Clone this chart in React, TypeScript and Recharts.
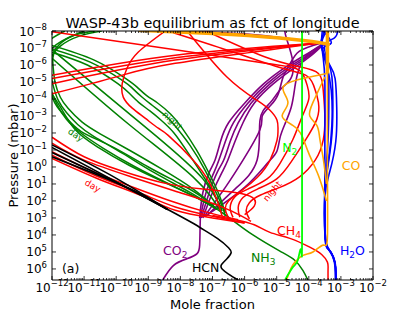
import { LineChart, Line, XAxis, YAxis, ReferenceDot } from "recharts";

type Pt = [number, number]; // [log10 mole fraction, log10 pressure (mbar)]

const FONT = "'DejaVu Sans', sans-serif";

const X_DOMAIN = [-12, -2];
const P_DOMAIN = [-8, 6.65];
const X_TICKS = [-12, -11, -10, -9, -8, -7, -6, -5, -4, -3, -2];
const P_TICKS = [-8, -7, -6, -5, -4, -3, -2, -1, 0, 1, 2, 3, 4, 5, 6];
const MINOR = [2, 3, 4, 5, 6, 7, 8, 9];

const h2oCurves: Pt[][] = [
  [[-3.58, -8], [-3.6, -7.3], [-3.55, -6.4], [-3.5, -5.0], [-3.5, -2.0], [-3.5, 0.5], [-3.5, 2.5], [-3.48, 4.2], [-3.38, 4.85], [-3.24, 5.3], [-3.17, 5.9], [-3.16, 6.65]],
  [[-3.5, -8], [-3.62, -7.2], [-3.45, -6.2], [-3.38, -5.0], [-3.38, -3.0], [-3.42, -1.0], [-3.5, 1.0], [-3.5, 2.5], [-3.48, 4.2], [-3.37, 4.85], [-3.23, 5.3], [-3.16, 5.9], [-3.15, 6.65]],
  [[-3.1, -8], [-3.2, -7.6], [-3.5, -7.15], [-3.4, -6.2], [-3.28, -5.3], [-3.25, -3.5], [-3.3, -1.5], [-3.45, 0.5], [-3.5, 1.8], [-3.49, 4.2], [-3.39, 4.85], [-3.25, 5.3], [-3.18, 5.9], [-3.17, 6.65]],
  [[-3.45, -8], [-3.6, -7.1], [-3.35, -6.0], [-3.18, -5.2], [-3.13, -3.5], [-3.16, -1.5], [-3.35, 0.3], [-3.5, 1.8], [-3.48, 4.2], [-3.38, 4.85], [-3.24, 5.3], [-3.17, 5.9], [-3.16, 6.65]],
  [[-3.55, -8], [-3.3, -7.3], [-3.55, -7.0], [-3.45, -6.0], [-3.3, -4.5], [-3.28, -2.5], [-3.38, -0.5], [-3.5, 1.5], [-3.49, 4.2], [-3.38, 4.85], [-3.24, 5.3], [-3.17, 5.9], [-3.16, 6.65]],
];

const coThick: Pt[][] = [
  [[-9.3, -8.05], [-7.0, -7.85], [-5.0, -7.6], [-3.6, -7.3], [-3.42, -7.2]],
  [[-3.42, -8], [-3.42, -6.5], [-3.42, -5.5]],
];

const coCurves: Pt[][] = [
  [[-3.42, -8], [-3.42, -5], [-3.42, 0], [-3.42, 4.1], [-3.55, 4.6], [-3.87, 5.0], [-4.18, 5.2], [-4.43, 5.6], [-4.55, 5.95], [-4.7, 6.65]],
  [[-3.44, -5.5], [-4.18, -5.2], [-4.8, -4.7], [-4.65, -3.8], [-4.83, -3.0], [-4.5, -2.45], [-4.22, -1.86], [-4.0, -0.8], [-3.7, 0.5], [-3.45, 2.0]],
  [[-3.5, -5.3], [-3.87, -3.8], [-3.97, -3.0], [-3.75, -2.45], [-3.66, -1.7], [-3.55, -0.5], [-3.45, 1.0]],
];

const n2Curves: Pt[][] = [
  [[-4.21, -8], [-4.21, 4.0], [-4.24, 4.88], [-4.34, 5.47], [-4.49, 5.88], [-4.74, 6.65]],
];

const nh3Day: Pt[][] = [
  [[-10.65, -8], [-11.3, -7.75], [-11.8, -7.15], [-11.97, -6.45], [-11.96, -5.8], [-11.9, -4.95], [-11.74, -4.1], [-11.5, -3.45], [-11.07, -2.65], [-10.5, -1.95], [-9.6, -1.0], [-8.6, 0.1], [-7.6, 1.3], [-6.85, 2.5]],
  [[-10.45, -8], [-11.15, -7.7], [-11.75, -7.1], [-12.05, -6.3], [-12.05, -5.5], [-11.95, -4.7], [-11.8, -3.9], [-11.55, -3.2], [-11.2, -2.5], [-10.7, -1.8], [-9.8, -0.8], [-8.8, 0.35], [-7.7, 1.5], [-6.85, 2.5]],
  [[-11.0, -8], [-11.7, -7.4], [-12.2, -6.5], [-12.2, -5.5], [-12.05, -4.6], [-11.85, -3.7], [-11.55, -2.8], [-11.1, -2.0], [-10.4, -1.1], [-9.4, 0.0], [-8.3, 1.05], [-7.4, 1.9], [-6.85, 2.5]],
  [[-11.6, -8], [-12.3, -7], [-12.3, -5.5], [-12.0, -4.3], [-11.7, -3.4], [-11.28, -2.2], [-10.6, -1.2], [-9.6, -0.1], [-8.5, 0.9], [-7.5, 1.8], [-6.85, 2.5]],
  [[-12.2, -6], [-11.97, -4.0], [-11.6, -3.0], [-11.1, -2.1], [-10.13, -1.2], [-9.0, 0.0], [-8.0, 1.0], [-7.3, 1.8], [-6.85, 2.5]],
];

const nh3Night: Pt[][] = [
  [[-12.1, -7.0], [-10.81, -6.17], [-9.81, -5.1], [-9.5, -4.64], [-9.19, -4.1], [-8.88, -3.63], [-8.48, -3.04], [-8.26, -2.63], [-7.7, -1.27], [-7.23, 0.2], [-6.92, 1.38], [-6.7, 2.3], [-6.6, 2.9]],
  [[-12.1, -6.8], [-10.9, -6.0], [-9.95, -4.9], [-9.6, -4.35], [-9.3, -3.8], [-8.95, -3.3], [-8.6, -2.75], [-8.2, -2.0], [-7.75, -0.8], [-7.3, 0.5], [-6.95, 1.6], [-6.7, 2.6]],
  [[-12.1, -7.2], [-10.7, -6.3], [-9.7, -5.2], [-9.35, -4.7], [-9.05, -4.2], [-8.7, -3.75], [-8.3, -3.1], [-7.95, -2.3], [-7.5, -1.0], [-7.1, 0.4], [-6.8, 1.6], [-6.6, 2.7]],
  [[-12, -6.9], [-8.78, -1.86], [-7.3, 0.7], [-6.7, 2.5]],
  [[-12, -6.4], [-9.6, -2.5], [-7.6, 0.6], [-6.75, 2.6]],
];

const nh3Low: Pt[][] = [
  [[-6.85, 2.5], [-6.4, 3.1], [-5.74, 4.0], [-4.9, 4.95], [-4.43, 5.5], [-4.18, 6.1], [-4.03, 6.65]],
];

const ch4Top: Pt[][] = [
  [[-12, -7.95], [-8.16, -6.9], [-5.5, -6.15], [-4.5, -5.85], [-4.2, -5.5], [-4.05, -4.8], [-4.0, -4.0], [-4.2, -3.0], [-4.5, -1.6], [-4.9, -0.2], [-5.3, 0.7], [-5.9, 1.3], [-6.3, 1.75], [-6.45, 2.4], [-6.36, 2.97]],
  [[-8.22, -7.9], [-6.5, -6.85], [-4.9, -5.85], [-4.1, -5.4], [-3.85, -4.8], [-3.7, -3.8], [-3.75, -2.8], [-4.1, -1.6], [-4.55, -0.3], [-5.0, 0.7], [-5.6, 1.3], [-6.05, 1.8], [-6.2, 2.4], [-6.15, 2.95]],
  [[-7.79, -8], [-6.55, -5.29], [-5.62, -3.93], [-5.21, -3.34], [-4.99, -2.75], [-4.96, -2.16], [-4.99, -1.57], [-5.21, -0.39], [-5.6, 0.6], [-6.1, 1.4], [-6.5, 2.0], [-6.6, 2.5], [-6.5, 3.0]],
  [[-7.2, -8], [-5.4, -6.5], [-4.3, -5.9], [-3.7, -5.5], [-3.55, -4.5], [-3.5, -3.0], [-3.55, -1.6], [-3.8, -0.4], [-4.3, 0.6], [-4.9, 1.2], [-5.5, 1.65], [-5.85, 2.1], [-5.95, 2.6], [-5.85, 3.05]],
  [[-8.47, -8], [-9.31, -6.76], [-9.66, -5.82], [-9.81, -4.93], [-9.78, -4.11], [-9.5, -3.46], [-9.1, -2.87], [-8.69, -2.28], [-8.38, -1.86], [-7.6, -0.4], [-7.1, 0.9], [-6.85, 2.0], [-6.7, 2.9]],
];

const ch4Fan: Pt[][] = [
  [[-12, -5.4], [-8.16, -6.58], [-3.65, -7.3]],
  [[-12, -5.2], [-8.16, -6.43], [-3.65, -7.3]],
  [[-12, -4.9], [-8.16, -6.29], [-3.65, -7.3]],
  [[-12, -4.3], [-10, -5.3], [-8.16, -6.1], [-3.65, -7.3]],
];

const ch4Day: Pt[][] = [
  [[-12, -1.75], [-11, -0.6], [-9.8, 0.25], [-8.5, 0.95], [-7.3, 1.3], [-6.3, 1.5], [-5.75, 1.8], [-5.7, 2.3], [-6.0, 2.8]],
  [[-12, -1.4], [-11, -0.4], [-9.5, 0.6], [-8.2, 1.4], [-7.2, 2.0], [-6.4, 2.6], [-5.8, 3.2]],
  [[-12, -0.7], [-10.65, 0.5], [-9.3, 1.5], [-8.16, 2.35], [-7.0, 2.9], [-6.0, 3.3]],
  [[-12, -0.5], [-10.5, 0.75], [-9.2, 1.7], [-8.16, 2.55], [-7.0, 3.0], [-6.0, 3.3]],
  [[-12, -0.9], [-10.8, 0.2], [-9.6, 1.1], [-8.3, 2.0], [-7.1, 2.7], [-6.2, 3.1]],
];

const ch4Low: Pt[][] = [
  [[-7.0, 2.85], [-6.3, 3.1], [-5.7, 3.4], [-5.21, 3.85], [-4.59, 4.2], [-3.97, 4.72], [-3.6, 5.15], [-3.42, 5.6], [-3.4, 6.0], [-3.4, 6.65]],
];

const co2Arcs: Pt[][] = [
  [[-7.4, 3.0], [-7.3, 1.5], [-7.1, 0.3], [-6.92, -0.41], [-6.75, -1.5], [-6.5, -2.6], [-6.0, -3.75], [-5.4, -4.9], [-4.7, -5.9], [-4.1, -6.6], [-3.55, -7.2]],
  [[-7.38, 3.0], [-7.2, 1.5], [-6.95, 0.3], [-6.8, -0.41], [-6.6, -1.5], [-6.35, -2.6], [-5.9, -3.75], [-5.3, -4.9], [-4.6, -5.9], [-4.0, -6.6], [-3.55, -7.2]],
  [[-7.35, 3.0], [-7.1, 1.5], [-6.85, 0.3], [-6.65, -0.41], [-6.45, -1.5], [-6.2, -2.6], [-5.8, -3.75], [-5.2, -4.9], [-4.5, -5.9], [-3.95, -6.6], [-3.55, -7.2]],
  [[-7.3, 3.0], [-7.0, 1.5], [-6.7, 0.3], [-6.52, -0.41], [-6.3, -1.5], [-6.05, -2.6], [-5.7, -3.75], [-5.1, -4.9], [-4.4, -5.9], [-3.9, -6.6], [-3.55, -7.2]],
];

const co2Thin: Pt[][] = [
  [[-7.25, 2.9], [-6.6, 1.2], [-6.05, -0.4], [-5.52, -2.2], [-5.45, -3.0], [-5.2, -3.6], [-4.95, -4.3], [-4.8, -5.3], [-4.6, -6.0], [-4.3, -6.8], [-3.6, -7.3]],
  [[-7.2, 2.9], [-6.3, 1.3], [-5.61, -0.41], [-5.52, -2.76], [-5.21, -3.76], [-4.9, -4.53], [-4.59, -5.12], [-4.49, -6.12], [-4.68, -7.47], [-4.75, -8]],
  [[-7.15, 2.8], [-6.0, 1.2], [-5.3, -0.2], [-5.0, -0.9], [-4.9, -1.7], [-4.75, -2.5], [-4.55, -3.5], [-4.45, -4.5], [-4.35, -5.5], [-4.1, -6.5], [-3.6, -7.2]],
  [[-7.4, -7.95], [-5.5, -7.75], [-3.75, -7.3]],
];

const co2Low: Pt[][] = [
  [[-8.55, 6.65], [-8.22, 5.8], [-7.8, 5.4], [-7.48, 5.1], [-7.4, 4.6], [-7.39, 3.9], [-7.38, 3.0]],
];

const hcnCurves: Pt[][] = [
  [[-12, -1.15], [-8.16, 2.74], [-7.39, 3.56], [-6.85, 4.2], [-6.5, 4.75], [-6.42, 5.05], [-6.55, 5.4], [-6.72, 5.75], [-6.7, 6.0], [-6.5, 6.3], [-6.2, 6.65]],
  [[-12, -0.85], [-9.8, 1.1], [-8.4, 2.5]],
  [[-12, -0.6], [-9.6, 1.25], [-8.4, 2.5]],
  [[-12, -1.3], [-10.2, 0.45], [-8.4, 2.5]],
];

const series = [
  { name: "co2", curves: [...co2Arcs, ...co2Thin, ...co2Low], color: "#800080", width: 1.6 },
  { name: "nh3", curves: [...nh3Day, ...nh3Night, ...nh3Low], color: "#008000", width: 1.5 },
  { name: "ch4", curves: [...ch4Top, ...ch4Fan, ...ch4Day, ...ch4Low], color: "#FF0000", width: 1.5 },
  { name: "hcn", curves: hcnCurves, color: "#000000", width: 1.6 },
  { name: "h2o", curves: h2oCurves, color: "#0000FF", width: 1.6 },
  { name: "co", curves: coCurves, color: "#FFA500", width: 1.6 },
  { name: "coThick", curves: coThick, color: "#FFA500", width: 3.5 },
  { name: "n2", curves: n2Curves, color: "#00FF00", width: 1.8 },
];

const labels = [
  { text: "CO", sub: "2", x: -8.54, p: 5.15, color: "#800080" },
  { text: "HCN", sub: "", x: -7.64, p: 6.15, color: "#000000" },
  { text: "NH", sub: "3", x: -5.8, p: 5.62, color: "#008000" },
  { text: "CH", sub: "4", x: -4.99, p: 3.98, color: "#FF0000" },
  { text: "H", sub: "2", tail: "O", x: -3.03, p: 5.15, color: "#0000FF" },
  { text: "CO", sub: "", x: -2.97, p: 0.15, color: "#FFA500" },
  { text: "N", sub: "2", x: -4.83, p: -0.91, color: "#00FF00" },
  { text: "(a)", sub: "", x: -11.69, p: 6.21, color: "#000000" },
];

const notes = [
  { text: "day", x: -11.27, p: -1.86, angle: 35, color: "#008000" },
  { text: "night", x: -8.26, p: -2.69, angle: 42, color: "#008000" },
  { text: "day", x: -10.74, p: 1.14, angle: 30, color: "#FF0000" },
  { text: "night", x: -5.12, p: 1.44, angle: -50, color: "#FF0000" },
];

const xTicksAll = [
  ...X_TICKS,
  ...X_TICKS.slice(0, -1).flatMap((d) => MINOR.map((m) => d + Math.log10(m))),
].sort((a, b) => a - b);

const expText = (v: number) => (v < 0 ? "\u2212" + Math.abs(v) : String(v));

function BottomTick({ x, y, payload }: any) {
  const v = payload.value;
  const major = Number.isInteger(v);
  return (
    <g>
      <line x1={x} y1={y} x2={x} y2={y - (major ? 4 : 2)} stroke="#000" strokeWidth={0.8} />
      {major && (
        <text x={x} y={y + 11.5} textAnchor="middle" fontSize={12} fontFamily={FONT} fill="#000">
          <tspan>10</tspan>
          <tspan dy={-6} fontSize={8.5}>{expText(v)}</tspan>
        </text>
      )}
    </g>
  );
}

function TopTick({ x, y, payload }: any) {
  const major = Number.isInteger(payload.value);
  return <line x1={x} y1={y} x2={x} y2={y + (major ? 4 : 2)} stroke="#000" strokeWidth={0.8} />;
}

function LeftTick({ x, y, payload }: any) {
  return (
    <g>
      <line x1={x} y1={y} x2={x + 4} y2={y} stroke="#000" strokeWidth={0.8} />
      <text x={x - 5} y={y + 4.5} textAnchor="end" fontSize={12} fontFamily={FONT} fill="#000">
        <tspan>10</tspan>
        <tspan dy={-5.5} fontSize={8.5}>{expText(payload.value)}</tspan>
      </text>
    </g>
  );
}

function RightTick({ x, y }: any) {
  return <line x1={x} y1={y} x2={x - 4} y2={y} stroke="#000" strokeWidth={0.8} />;
}

export default function App() {
  return (
    <div style={{ position: "absolute", left: 0, top: 0, width: 415, height: 312, background: "#fff" }}>
      <LineChart width={415} height={312} margin={{ top: 0, right: 0, bottom: 0, left: 0 }}>
        <XAxis
          xAxisId="b"
          type="number"
          dataKey="x"
          domain={X_DOMAIN}
          allowDataOverflow
          ticks={xTicksAll}
          interval={0}
          height={32}
          tickSize={0}
          tickMargin={0}
          tickLine={false}
          axisLine={{ stroke: "#000" }}
          tick={(props: any) => <BottomTick {...props} />}
          label={{
            value: "Mole fraction",
            position: "insideBottom",
            offset: 3.5,
            style: { fontSize: 13, fill: "#000", fontFamily: FONT },
          }}
        />
        <XAxis
          xAxisId="t"
          orientation="top"
          type="number"
          dataKey="x"
          domain={X_DOMAIN}
          allowDataOverflow
          ticks={xTicksAll}
          interval={0}
          height={31}
          tickSize={0}
          tickMargin={0}
          tickLine={false}
          axisLine={{ stroke: "#000" }}
          tick={(props: any) => <TopTick {...props} />}
        />
        <YAxis
          yAxisId="l"
          type="number"
          domain={P_DOMAIN}
          allowDataOverflow
          reversed
          ticks={P_TICKS}
          interval={0}
          width={52}
          tickSize={0}
          tickMargin={0}
          tickLine={false}
          axisLine={{ stroke: "#000" }}
          tick={(props: any) => <LeftTick {...props} />}
          label={{
            value: "Pressure (mbar)",
            angle: -90,
            position: "insideLeft",
            offset: 13,
            style: { fontSize: 13, fill: "#000", fontFamily: FONT, textAnchor: "middle" },
          }}
        />
        <YAxis
          yAxisId="r"
          orientation="right"
          type="number"
          domain={P_DOMAIN}
          allowDataOverflow
          reversed
          ticks={P_TICKS}
          interval={0}
          width={42}
          tickSize={0}
          tickMargin={0}
          tickLine={false}
          axisLine={{ stroke: "#000" }}
          tick={(props: any) => <RightTick {...props} />}
        />
        {series.flatMap((s) =>
          s.curves.map((c, i) => (
            <Line
              key={`${s.name}_${i}`}
              data={c.map(([x, p]) => ({ x, p }))}
              dataKey="p"
              xAxisId="b"
              yAxisId="l"
              type="natural"
              stroke={s.color}
              strokeWidth={s.width}
              strokeLinejoin="round"
              dot={false}
              activeDot={false}
              isAnimationActive={false}
            />
          ))
        )}
        {labels.map((l, i) => (
          <ReferenceDot
            key={`lab_${i}`}
            xAxisId="b"
            yAxisId="l"
            x={l.x}
            y={l.p}
            r={0}
            shape={(props: any) => (
              <text x={props.cx} y={props.cy} fontSize={12.5} fontFamily={FONT} fill={l.color}>
                <tspan>{l.text}</tspan>
                {l.sub && (
                  <tspan dy={3} fontSize={9}>
                    {l.sub}
                  </tspan>
                )}
                {l.tail && <tspan dy={-3}>{l.tail}</tspan>}
              </text>
            )}
          />
        ))}
        {notes.map((n, i) => (
          <ReferenceDot
            key={`note_${i}`}
            xAxisId="b"
            yAxisId="l"
            x={n.x}
            y={n.p}
            r={0}
            shape={(props: any) => (
              <text
                x={props.cx}
                y={props.cy}
                fontSize={9}
                fontFamily={FONT}
                fill={n.color}
                textAnchor="middle"
                dominantBaseline="middle"
                transform={`rotate(${n.angle} ${props.cx} ${props.cy})`}
              >
                {n.text}
              </text>
            )}
          />
        ))}
      </LineChart>
      <div
        style={{
          position: "absolute",
          left: 52,
          width: 321,
          top: 16,
          textAlign: "center",
          fontSize: 14.4,
          lineHeight: "14px",
          whiteSpace: "nowrap",
          fontFamily: FONT,
          color: "#000",
        }}
      >
        WASP-43b equilibrium as fct of longitude
      </div>
    </div>
  );
}
